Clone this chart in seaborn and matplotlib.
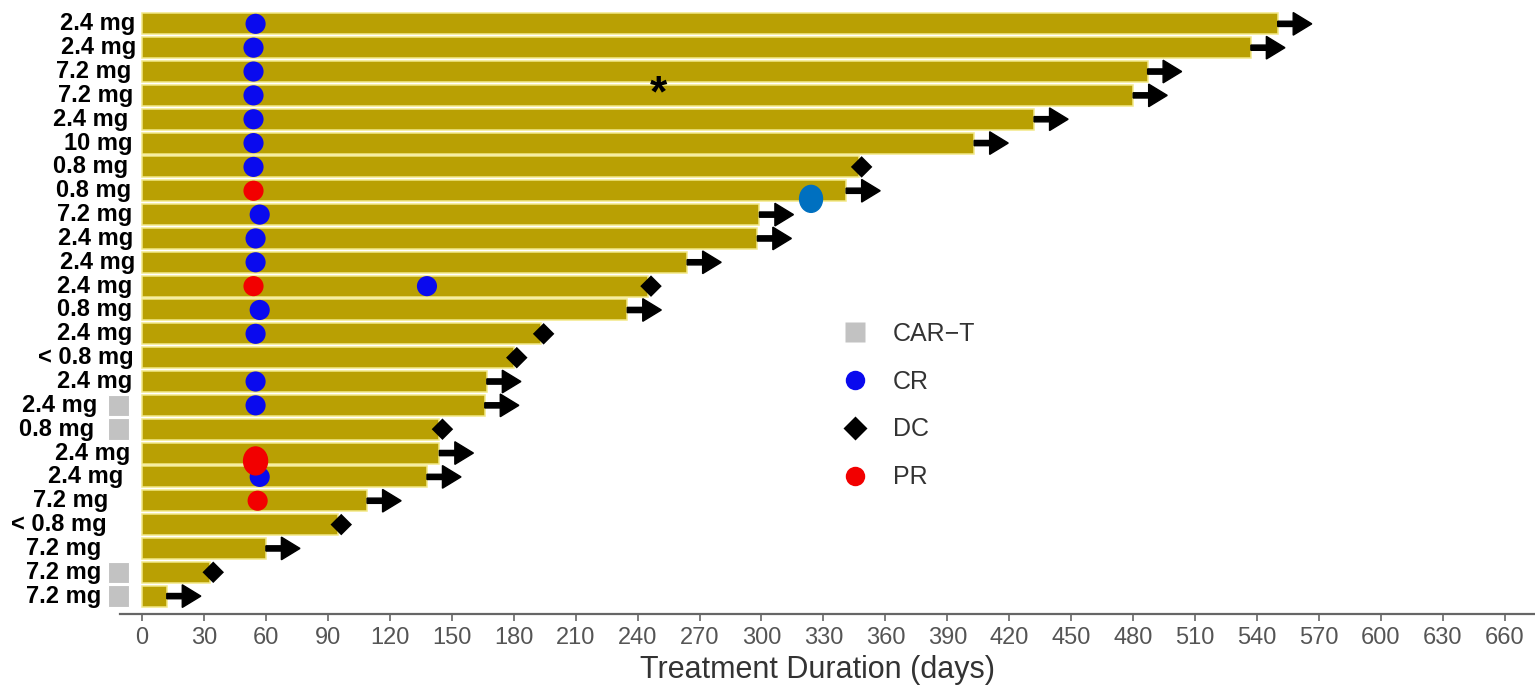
import numpy as np
import pandas as pd
import matplotlib
matplotlib.use("Agg")
import matplotlib.pyplot as plt
import matplotlib.transforms as mtransforms
from matplotlib.patches import Ellipse, FancyArrow
from matplotlib.lines import Line2D
import seaborn as sns

# --- datos (fila 0 = arriba) ---
doses = ["2.4 mg", "2.4 mg", "7.2 mg", "7.2 mg", "2.4 mg", "10 mg", "0.8 mg", "0.8 mg",
         "7.2 mg", "2.4 mg", "2.4 mg", "2.4 mg", "0.8 mg", "2.4 mg", "< 0.8 mg", "2.4 mg",
         "2.4 mg", "0.8 mg", "2.4 mg", "2.4 mg", "7.2 mg", "< 0.8 mg", "7.2 mg", "7.2 mg",
         "7.2 mg"]
duration = [550, 537, 487, 480, 432, 403, 347, 341, 299, 298, 264, 245, 235,
            193, 180, 167, 166, 144, 144, 138, 109, 95, 60, 33, 12]
# True = sigue en tratamiento (flecha), False = discontinuado (DC)
ongoing = [True, True, True, True, True, True, False, True, True, True, True, False, True,
           False, False, True, True, False, True, True, True, False, True, False, True]
car_t = [False] * 16 + [True, True] + [False] * 5 + [True, True]
cr_day = [55, 54, 54, 54, 54, 54, 54, np.nan, 57, 55, 55, np.nan, 57,
          55, np.nan, 55, 55, np.nan, np.nan, 57, np.nan, np.nan, np.nan, np.nan, np.nan]
cr2_day = {11: 138}          # segunda evaluacion CR
pr_day = {7: 54, 11: 54, 20: 56}
pr_big_day = {18: 55}        # PR marcado mas grande
cr_big_day = {7: 324}        # CR (azul claro) al final de la barra
star_day, star_row = 250, 2.56

# posiciones de las etiquetas de dosis (borde derecho en pixeles)
label_right_px = [135, 136, 131, 133, 128, 132, 128, 131, 132, 133, 135, 132, 132,
                  132, 134, 132, 97, 94, 130, 123, 108, 107, 101, 101, 101]

df = pd.DataFrame({"paciente": [f"P{i+1}" for i in range(len(doses))],
                   "dosis": doses, "dias": duration})
rows = np.arange(len(df))

bar_color = "#B9A003"
blue = "#0A0AEE"
red = "#F20000"

sns.set_style("white")
plt.rcParams["font.family"] = ["Liberation Sans", "DejaVu Sans"]

fig = plt.figure(figsize=(15.35, 6.85), dpi=100)
ax = fig.add_axes([100 / 1535, 71 / 685, 1435 / 1535, 614 / 685])

sns.barplot(data=df, x="dias", y="paciente", orient="h", color=bar_color,
            saturation=1, width=0.88, errorbar=None, edgecolor="#F2E888",
            linewidth=1.1, ax=ax)

# CAR-T: cuadros grises a la izquierda
ct_rows = rows[np.array(car_t)]
ax.barh(ct_rows, [10.2] * len(ct_rows), left=-16.5, height=0.9, color="#C2C2C2",
        edgecolor="white", linewidth=0.8)

# flechas (en tratamiento) y diamantes (DC)
for i in rows:
    if ongoing[i]:
        ax.add_patch(FancyArrow(duration[i], i, 16.5, 0, width=0.22, head_width=0.95,
                                head_length=9, length_includes_head=True,
                                color="black", zorder=4))
dc = df[~np.array(ongoing)]
sns.scatterplot(x=dc["dias"].values + 1.5, y=dc.index.values, marker="D", s=120,
                color="black", edgecolor="none", zorder=5, ax=ax)

# respuestas
cr = pd.DataFrame({"dia": cr_day, "fila": rows}).dropna()
cr = pd.concat([cr, pd.DataFrame({"dia": list(cr2_day.values()), "fila": list(cr2_day.keys())})])
sns.scatterplot(data=cr, x="dia", y="fila", s=210, color=blue, edgecolor="none",
                zorder=6, ax=ax)
pr = pd.DataFrame({"dia": list(pr_day.values()), "fila": list(pr_day.keys())})
sns.scatterplot(data=pr, x="dia", y="fila", s=210, color=red, edgecolor="none",
                zorder=6, ax=ax)
for r, d in pr_big_day.items():
    ax.add_patch(Ellipse((d, r + 0.33), 11.6, 1.17, color=red, zorder=7))
for r, d in cr_big_day.items():
    ax.add_patch(Ellipse((d, r + 0.34), 11.1, 1.13, color="#0070C0", zorder=7))

star_tr = mtransforms.offset_copy(ax.transData, fig=fig, x=0, y=-10, units="dots")
ax.text(star_day, star_row, "*", fontsize=32, fontweight="bold", ha="center",
        va="center", color="black", transform=star_tr, zorder=8)

# etiquetas de dosis
trans = mtransforms.blended_transform_factory(ax.transAxes, ax.transData)
for i, lab in enumerate(doses):
    ax.text((label_right_px[i] - 100) / 1435, i, lab, transform=trans, ha="right",
            va="center", fontsize=17, fontweight="bold", color="black", zorder=9)

ax.set_xlim(-20.34, 674.6)
ax.set_ylim(24.75, -1.0)
ax.set_xticks(np.arange(0, 661, 30))
ax.set_yticks([])
ax.set_ylabel("")
ax.set_xlabel("Treatment Duration (days)", fontsize=22, color="#333333", labelpad=5)
ax.tick_params(axis="x", direction="out", length=5, width=1.2, color="#666666",
               labelcolor="#555555", labelsize=17, pad=4, bottom=True)
for s in ["left", "top", "right"]:
    ax.spines[s].set_visible(False)
ax.spines["bottom"].set_color("#666666")
ax.spines["bottom"].set_linewidth(1.6)
ax.spines["bottom"].set_bounds(-10.6, 674.6)

handles = [
    Line2D([], [], linestyle="none", marker="s", markersize=15, markerfacecolor="#C2C2C2",
           markeredgecolor="none", label="CAR\u2212T"),
    Line2D([], [], linestyle="none", marker="o", markersize=14, markerfacecolor=blue,
           markeredgecolor="none", label="CR"),
    Line2D([], [], linestyle="none", marker="D", markersize=12, markerfacecolor="black",
           markeredgecolor="none", label="DC"),
    Line2D([], [], linestyle="none", marker="o", markersize=14, markerfacecolor=red,
           markeredgecolor="none", label="PR"),
]
leg = fig.legend(handles=handles, loc="upper left", bbox_to_anchor=(842 / 1535, 1 - 322 / 685),
                 frameon=False, fontsize=18, handlelength=1.0, handletextpad=1.05,
                 labelspacing=0.95, borderpad=0, borderaxespad=0)
for t in leg.get_texts():
    t.set_color("#333333")

fig.savefig("out.png", dpi=100)
